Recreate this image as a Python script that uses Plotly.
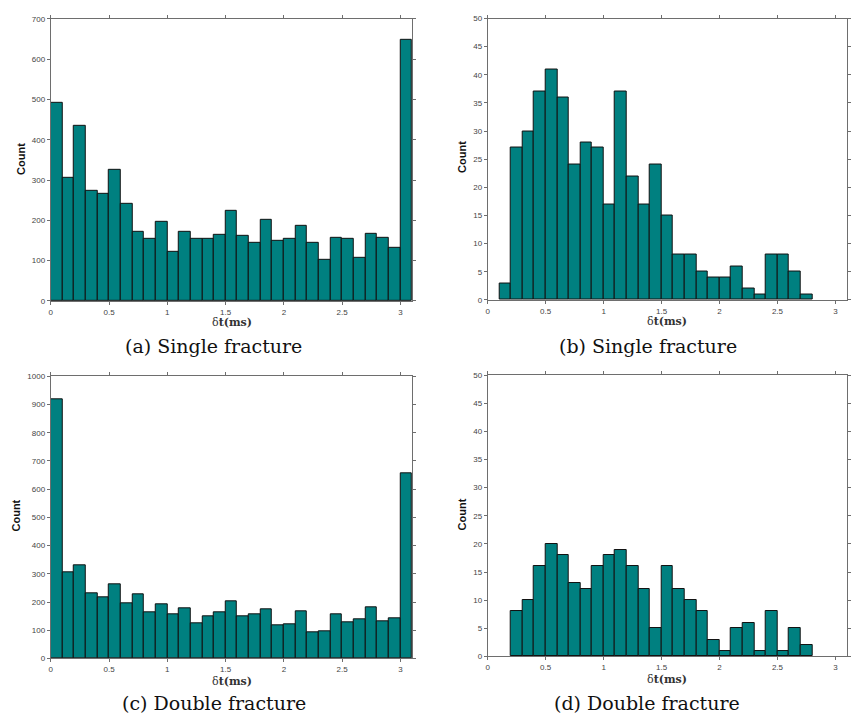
import plotly.graph_objects as go

W, H = 851, 724

# ---------------- data ----------------
bin_left = [0.0, 0.1, 0.2, 0.3, 0.4, 0.5, 0.6, 0.7, 0.8, 0.9,
            1.0, 1.1, 1.2, 1.3, 1.4, 1.5, 1.6, 1.7, 1.8, 1.9,
            2.0, 2.1, 2.2, 2.3, 2.4, 2.5, 2.6, 2.7, 2.8, 2.9, 3.0]

counts_a = [492, 305, 435, 273, 265, 326, 240, 172, 153, 197,
            122, 172, 153, 154, 163, 224, 162, 145, 202, 148,
            155, 187, 145, 102, 156, 155, 108, 167, 156, 132, 647]

bins_b = [0.1, 0.2, 0.3, 0.4, 0.5, 0.6, 0.7, 0.8, 0.9,
          1.0, 1.1, 1.2, 1.3, 1.4, 1.5, 1.6, 1.7, 1.8, 1.9,
          2.0, 2.1, 2.2, 2.3, 2.4, 2.5, 2.6, 2.7]
counts_b = [3, 27, 30, 37, 41, 36, 24, 28, 27,
            17, 37, 22, 17, 24, 15, 8, 8, 5, 4,
            4, 6, 2, 1, 8, 8, 5, 1]

counts_c = [920, 305, 330, 232, 215, 263, 197, 227, 165, 193,
            155, 179, 124, 151, 162, 204, 148, 157, 173, 118,
            120, 166, 94, 97, 155, 129, 137, 183, 130, 142, 655]

bins_d = [0.2, 0.3, 0.4, 0.5, 0.6, 0.7, 0.8, 0.9,
          1.0, 1.1, 1.2, 1.3, 1.4, 1.5, 1.6, 1.7, 1.8, 1.9,
          2.0, 2.1, 2.2, 2.3, 2.4, 2.5, 2.6, 2.7]
counts_d = [8, 10, 16, 20, 18, 13, 12, 16,
            18, 19, 16, 12, 5, 16, 12, 10, 8, 3,
            1, 5, 6, 1, 8, 1, 5, 2]

bin_width = 0.1
x_ticks = [0, 0.5, 1, 1.5, 2, 2.5, 3]
x_ticklabels = ["0", "0.5", "1", "1.5", "2", "2.5", "3"]
captions = ["(a) Single fracture", "(b) Single fracture",
            "(c) Double fracture", "(d) Double fracture"]
xlabel = "δ<b>t(ms)</b>"
ylabel = "<b>Count</b>"

# --------------- layout helpers ---------------
def px(x):
    return x / W

def py(y):
    return 1 - y / H

# panels: (x0, x1, ytop, ybottom, xmax, ymax, dtick)
panels = [
    (49, 412, 15.0, 300.7, 3.1, 700, 100),
    (488, 849, 14.7, 299.7, 3.1, 50, 5),
    (49, 412, 377.0, 662.7, 3.1, 1000, 100),
    (488, 849, 375.7, 660.7, 3.1, 50, 5),
]
series = [(bin_left, counts_a), (bins_b, counts_b),
          (bin_left, counts_c), (bins_d, counts_d)]

teal = "#008080"
axis_col = "#6e6e6e"
tick_font = dict(family="Liberation Sans, Arial", size=8, color="#444444")

fig = go.Figure()
layout = dict(width=W, height=H, margin=dict(l=0, r=0, t=0, b=0),
              paper_bgcolor="white", plot_bgcolor="white",
              showlegend=False, bargap=0)

annotations = []
for i, ((x0, x1, yt, yb, xmax, ymax, dt), (bx, cy)) in enumerate(zip(panels, series)):
    n = "" if i == 0 else str(i + 1)
    fig.add_trace(go.Bar(
        x=bx, y=cy, width=[bin_width] * len(bx), offset=0,
        marker=dict(color=teal, line=dict(color="#111111", width=1)),
        xaxis="x" + n, yaxis="y" + n, hoverinfo="x+y"))
    common = dict(showgrid=False, zeroline=False, showline=True, linecolor=axis_col,
                  linewidth=1, mirror="ticks", ticks="outside", ticklen=3,
                  tickcolor=axis_col, tickfont=tick_font)
    layout["xaxis" + n] = dict(domain=[px(x0), px(x1)], range=[0, xmax],
                               anchor="y" + n, tickvals=x_ticks, ticktext=x_ticklabels,
                               **common)
    layout["yaxis" + n] = dict(domain=[py(yb), py(yt)], range=[0, ymax],
                               anchor="x" + n, dtick=dt, tick0=0, **common)

# text positions (pixels in the reference)
xlabel_pos = [(231, 323), (668, 322), (231, 686), (668, 684)]
ylabel_pos = [(19, 157), (462, 155), (14, 518), (462, 517)]
caption_pos = [(213, 346), (649, 346), (213, 708), (648, 708)]

for i in range(4):
    annotations.append(dict(x=px(xlabel_pos[i][0]), y=py(xlabel_pos[i][1]),
                            xref="paper", yref="paper", showarrow=False,
                            text=xlabel, xanchor="center", yanchor="middle",
                            font=dict(family="DejaVu Serif, serif",
                                      size=11, color="#333333")))
    annotations.append(dict(x=px(ylabel_pos[i][0]), y=py(ylabel_pos[i][1]),
                            xref="paper", yref="paper", showarrow=False,
                            text=ylabel, textangle=-90, xanchor="center", yanchor="middle",
                            font=dict(family="Liberation Sans, Arial", size=11, color="#111111")))
    annotations.append(dict(x=px(caption_pos[i][0]), y=py(caption_pos[i][1]),
                            xref="paper", yref="paper", showarrow=False,
                            text=captions[i], xanchor="center", yanchor="middle",
                            font=dict(family="DejaVu Serif, serif",
                                      size=19, color="#111111")))

layout["annotations"] = annotations
fig.update_layout(**layout)
fig.write_html("out.html",
               config={"displayModeBar": False},
               post_script="document.body.style.margin='0';document.body.style.overflow='hidden';")
